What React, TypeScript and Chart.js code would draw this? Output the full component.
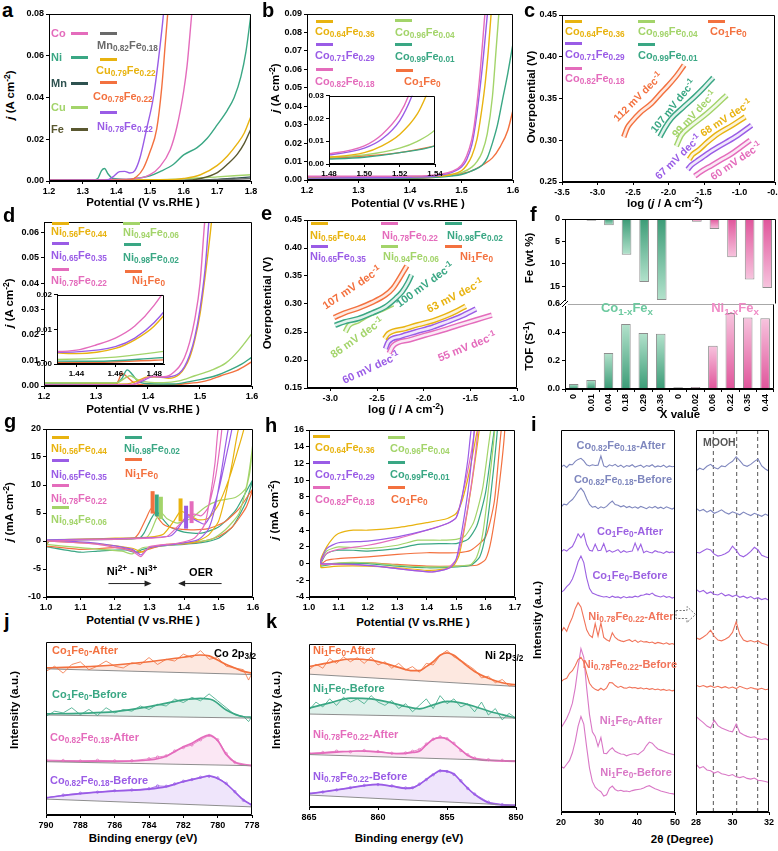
import React, { useEffect, useRef } from 'react';
import { Chart, registerables } from 'chart.js';
Chart.register(...registerables);

const FF = '"Liberation Sans", Arial, Helvetica, sans-serif';
Chart.defaults.font.family = FF;
Chart.defaults.color = '#000';

const PINK = '#e46cbc';
const PURPLE = '#9a5ce6';
const YELLOW = '#e8b310';
const LGREEN = '#a3d46a';
const TEAL = '#3aa784';
const ORANGE = '#f3713f';
const MNC = '#2e5250';
const FEC = '#5a5830';
const GRAYC = '#6a6a6a';
const SLATE = '#7f87be';
const XPUR = '#9c62e2';
const XORG = '#f1745a';
const XPNK = '#d978c6';

// ---------- panel a ----------
const aCo = [[1.2,0.0005],[1.45,0.001],[1.5,0.003],[1.53,0.007],[1.56,0.015],[1.58,0.026],[1.6,0.043],[1.61,0.055],[1.624,0.08],[1.63,0.09]];
const aNi = [[1.2,0.0005],[1.33,0.0005],[1.345,0.0012],[1.356,0.005],[1.365,0.006],[1.375,0.0035],[1.39,0.0012],[1.43,0.0008],[1.47,0.0015],[1.5,0.0025],[1.53,0.0045],[1.57,0.008],[1.6,0.0125],[1.64,0.016],[1.67,0.0205],[1.7,0.027],[1.73,0.034],[1.75,0.04],[1.77,0.05],[1.785,0.062],[1.8,0.08]];
const aMn = [[1.2,0.0003],[1.6,0.0003],[1.65,0.0004],[1.7,0.0008],[1.75,0.0013],[1.8,0.002]];
const aCu = [[1.2,0.0004],[1.5,0.0006],[1.6,0.001],[1.7,0.002],[1.8,0.003]];
const aFe = [[1.2,0.0002],[1.6,0.0003],[1.65,0.0012],[1.7,0.004],[1.73,0.008],[1.76,0.013],[1.78,0.018],[1.8,0.025]];
const aMnFe = [[1.2,0.0001],[1.6,0.0002],[1.7,0.0006],[1.8,0.0012]];
const aCuFe = [[1.2,0.0004],[1.55,0.0006],[1.6,0.0012],[1.65,0.003],[1.7,0.0075],[1.73,0.012],[1.76,0.018],[1.78,0.023],[1.8,0.031]];
const aCoFe = [[1.2,0.0003],[1.44,0.0005],[1.46,0.002],[1.48,0.006],[1.5,0.014],[1.52,0.025],[1.535,0.045],[1.545,0.065],[1.555,0.085],[1.56,0.095]];
const aNiFe = [[1.2,0.0003],[1.37,0.0004],[1.39,0.002],[1.41,0.0045],[1.425,0.0046],[1.44,0.0038],[1.455,0.005],[1.47,0.011],[1.49,0.025],[1.51,0.04],[1.525,0.058],[1.54,0.08],[1.545,0.09]];

// ---------- panel b ----------
const bCo64 = [[1.2,0.0015],[1.3,0.0015],[1.4,0.0018],[1.45,0.002],[1.48,0.003],[1.5,0.005],[1.51,0.008],[1.52,0.013],[1.53,0.022],[1.535,0.03],[1.545,0.05],[1.552,0.07],[1.558,0.092]];
const bCo71 = [[1.2,0.001],[1.3,0.0012],[1.4,0.0015],[1.45,0.0022],[1.48,0.004],[1.5,0.007],[1.51,0.011],[1.52,0.019],[1.527,0.03],[1.54,0.06],[1.551,0.092]];
const bCo82 = [[1.2,0.002],[1.3,0.002],[1.4,0.0022],[1.45,0.0028],[1.48,0.0045],[1.5,0.008],[1.51,0.013],[1.52,0.022],[1.525,0.03],[1.535,0.055],[1.546,0.092]];
const bCo96 = [[1.2,0.0012],[1.3,0.0012],[1.4,0.0015],[1.45,0.002],[1.48,0.003],[1.5,0.004],[1.52,0.007],[1.53,0.01],[1.54,0.015],[1.55,0.025],[1.56,0.045],[1.567,0.07],[1.573,0.092]];
const bCo99 = [[1.2,0.0008],[1.3,0.0008],[1.4,0.001],[1.45,0.0015],[1.48,0.0022],[1.5,0.003],[1.52,0.005],[1.54,0.008],[1.55,0.012],[1.56,0.02],[1.57,0.03],[1.58,0.044],[1.59,0.058],[1.6,0.074]];
const bCo1 = [[1.2,0.0006],[1.3,0.0006],[1.4,0.0008],[1.45,0.0015],[1.48,0.0025],[1.5,0.0035],[1.52,0.005],[1.54,0.008],[1.56,0.012],[1.575,0.018],[1.59,0.027],[1.6,0.038]];

// ---------- panel c (Tafel) ----------
const cCo1 = [[-2.63,0.304],[-2.58,0.315],[-2.52,0.322],[-2.4,0.333],[-2.24,0.344],[-2.1,0.357],[-2.0,0.366],[-1.88,0.378],[-1.78,0.39]];
const cCo99 = [[-2.12,0.304],[-2.05,0.315],[-1.96,0.326],[-1.8,0.339],[-1.63,0.352],[-1.5,0.363],[-1.37,0.375]];
const cCo96 = [[-1.89,0.293],[-1.82,0.306],[-1.7,0.316],[-1.49,0.33],[-1.33,0.342],[-1.18,0.354]];
const cCo64 = [[-1.71,0.277],[-1.66,0.283],[-1.58,0.288],[-1.45,0.298],[-1.3,0.308],[-1.1,0.318],[-0.92,0.328]];
const cCo71 = [[-1.73,0.265],[-1.68,0.27],[-1.6,0.275],[-1.45,0.284],[-1.3,0.292],[-1.06,0.304],[-0.83,0.318]];
const cCo82 = [[-1.63,0.257],[-1.55,0.262],[-1.39,0.27],[-1.25,0.277],[-1.11,0.284],[-0.98,0.292],[-0.85,0.3]];

// ---------- panel d ----------
const dNi56 = [[1.2,0.0006],[1.3,0.0007],[1.36,0.0008],[1.38,0.002],[1.4,0.0035],[1.42,0.0035],[1.44,0.003],[1.46,0.0045],[1.47,0.007],[1.48,0.011],[1.49,0.018],[1.5,0.028],[1.51,0.043],[1.52,0.06],[1.524,0.068]];
const dNi65 = [[1.2,0.0004],[1.3,0.0005],[1.37,0.0006],[1.39,0.002],[1.41,0.0037],[1.43,0.0034],[1.44,0.0035],[1.46,0.005],[1.47,0.0075],[1.48,0.012],[1.49,0.019],[1.5,0.03],[1.51,0.046],[1.517,0.064],[1.52,0.07]];
const dNi78 = [[1.2,0.0003],[1.3,0.0004],[1.37,0.0005],[1.39,0.0025],[1.41,0.0038],[1.43,0.0036],[1.44,0.004],[1.45,0.0055],[1.46,0.0075],[1.47,0.011],[1.48,0.017],[1.49,0.026],[1.5,0.04],[1.509,0.064],[1.512,0.07]];
const dNi94 = [[1.2,0.0013],[1.34,0.0013],[1.355,0.003],[1.365,0.004],[1.38,0.0025],[1.4,0.0015],[1.43,0.0013],[1.46,0.002],[1.49,0.004],[1.52,0.006],[1.55,0.009],[1.575,0.014],[1.6,0.0205]];
const dNi98 = [[1.2,0.0012],[1.34,0.0012],[1.35,0.003],[1.36,0.0063],[1.37,0.0045],[1.38,0.002],[1.4,0.0009],[1.45,0.0008],[1.48,0.0017],[1.5,0.0025],[1.53,0.004],[1.56,0.0065],[1.58,0.0085],[1.6,0.0113]];
const dNi1 = [[1.2,0.0005],[1.338,0.0005],[1.343,0.002],[1.35,0.005],[1.36,0.0035],[1.375,0.001],[1.4,0.0004],[1.45,0.0005],[1.48,0.0011],[1.5,0.0015],[1.52,0.0025],[1.54,0.004],[1.57,0.006],[1.6,0.0095]];

// ---------- panel e (Tafel) ----------
const eNi1 = [[-2.96,0.276],[-2.85,0.284],[-2.7,0.2925],[-2.55,0.303],[-2.41,0.316],[-2.33,0.328],[-2.27,0.343],[-2.22,0.357],[-2.18,0.368]];
const eNi98 = [[-2.95,0.262],[-2.85,0.268],[-2.7,0.274],[-2.55,0.284],[-2.41,0.295],[-2.3,0.31],[-2.23,0.322],[-2.17,0.338],[-2.13,0.352]];
const eNi94 = [[-2.84,0.25],[-2.8,0.262],[-2.7,0.27],[-2.6,0.28],[-2.45,0.29],[-2.33,0.3]];
const eNi56 = [[-2.42,0.238],[-2.38,0.247],[-2.2,0.256],[-2.06,0.263],[-1.9,0.27],[-1.77,0.278],[-1.65,0.287],[-1.55,0.296]];
const eNi65 = [[-2.41,0.22],[-2.38,0.232],[-2.25,0.242],[-2.09,0.25],[-1.9,0.259],[-1.77,0.267],[-1.6,0.278],[-1.44,0.291]];
const eNi78 = [[-2.37,0.212],[-2.33,0.225],[-2.15,0.236],[-1.99,0.244],[-1.8,0.253],[-1.63,0.262],[-1.45,0.271],[-1.27,0.28]];

// ---------- panel f ----------
const fXLabels = ['0','0.01','0.04','0.18','0.29','0.36','0','0.02','0.06','0.22','0.35','0.44'];
const fFeWt = [0, 0.38, 1.4, 8.0, 14.1, 18.1, 0, 0.6, 2.25, 8.55, 13.5, 15.4];
const fTOF = [0.035, 0.064, 0.254, 0.459, 0.395, 0.39, 0.012, 0.014, 0.306, 0.536, 0.504, 0.5];

// ---------- panel g (CV, Ni series) ----------
const gNi1 = [[1.0,-0.9],[1.01,0.1],[1.1,0.3],[1.2,0.4],[1.255,0.5],[1.27,1.5],[1.29,4.0],[1.305,5.8],[1.32,4.5],[1.34,3.0],[1.37,2.3],[1.42,2.0],[1.47,2.2],[1.52,3.5],[1.56,5.8],[1.6,9.3],[1.58,6.0],[1.54,2.5],[1.5,0.8],[1.45,-0.1],[1.4,-0.5],[1.33,-0.9],[1.29,-1.6],[1.27,-2.1],[1.24,-1.5],[1.2,-1.2],[1.1,-1.5],[1.0,-0.9]];
const gNi98 = [[1.0,-1.0],[1.01,0.0],[1.1,0.2],[1.2,0.3],[1.27,0.5],[1.285,1.5],[1.305,4.0],[1.32,5.3],[1.335,4.2],[1.36,2.5],[1.4,1.6],[1.45,1.4],[1.5,2.5],[1.55,5.5],[1.6,11.0],[1.58,7.0],[1.54,2.5],[1.5,0.5],[1.45,-0.3],[1.4,-0.6],[1.33,-0.9],[1.28,-1.5],[1.26,-2.0],[1.23,-1.6],[1.15,-1.8],[1.1,-2.0],[1.0,-1.0]];
const gNi94 = [[1.0,-0.6],[1.01,0.2],[1.1,0.3],[1.2,0.4],[1.29,0.6],[1.305,1.8],[1.32,4.0],[1.335,5.0],[1.35,4.0],[1.38,3.2],[1.42,4.0],[1.46,6.0],[1.5,7.2],[1.55,7.8],[1.58,9.5],[1.6,17.5],[1.59,12.0],[1.56,5.0],[1.52,2.0],[1.48,0.3],[1.42,-0.3],[1.35,-0.8],[1.28,-1.2],[1.25,-2.3],[1.22,-1.8],[1.1,-1.2],[1.0,-0.6]];
const gNi56 = [[1.0,0.0],[1.1,0.3],[1.2,0.5],[1.3,0.7],[1.34,1.2],[1.37,3.5],[1.39,5.3],[1.41,4.8],[1.44,3.8],[1.47,4.0],[1.5,6.5],[1.53,11.0],[1.555,16.0],[1.575,20.5],[1.56,20.5],[1.54,14.0],[1.52,8.0],[1.5,3.5],[1.47,1.0],[1.43,-0.2],[1.35,-0.6],[1.3,-1.3],[1.28,-2.0],[1.25,-1.3],[1.15,-0.5],[1.0,0.0]];
const gNi65 = [[1.0,0.2],[1.1,0.3],[1.2,0.4],[1.3,0.6],[1.36,0.9],[1.38,2.0],[1.4,3.8],[1.415,4.3],[1.44,3.5],[1.46,3.0],[1.48,5.0],[1.5,9.0],[1.52,14.5],[1.54,20.5],[1.53,20.5],[1.51,13.0],[1.49,6.0],[1.47,2.0],[1.44,0.2],[1.38,-0.5],[1.3,-1.2],[1.275,-2.5],[1.25,-1.5],[1.15,-0.4],[1.0,0.2]];
const gNi78 = [[1.0,0.0],[1.1,0.2],[1.2,0.3],[1.3,0.5],[1.35,0.8],[1.38,2.5],[1.41,4.5],[1.43,4.8],[1.45,4.5],[1.47,6.0],[1.49,11.0],[1.5,15.0],[1.51,20.5],[1.5,20.5],[1.49,14.0],[1.475,7.5],[1.46,3.0],[1.43,0.5],[1.38,-0.4],[1.3,-1.0],[1.275,-2.8],[1.25,-1.8],[1.15,-0.6],[1.0,0.0]];
const gPeakX = [1.309, 1.321, 1.333, 1.39, 1.406, 1.422];
const gPeakLow = [4.9, 4.4, 3.9, 3.5, 2.2, 3.2];
const gPeakHigh = [8.9, 8.3, 7.9, 7.6, 6.3, 7.1];
const gArrows = [[1.181, 1.306, -7.6], [1.509, 1.383, -7.6]];

// ---------- panel h (CV, Co series) ----------
const hCo64 = [[1.04,-0.5],[1.04,0.5],[1.06,2.0],[1.08,3.0],[1.1,3.6],[1.15,4.0],[1.2,4.0],[1.3,4.3],[1.4,4.9],[1.47,5.4],[1.5,6.0],[1.52,7.5],[1.545,11.0],[1.575,16.5],[1.58,16.5],[1.555,10.0],[1.53,4.5],[1.51,1.0],[1.49,-0.3],[1.45,-0.7],[1.4,-0.8],[1.3,-0.5],[1.2,-0.3],[1.1,-0.3],[1.04,-0.5]];
const hCo71 = [[1.04,0.0],[1.04,0.3],[1.06,1.8],[1.1,2.5],[1.2,2.7],[1.3,3.2],[1.4,4.0],[1.47,4.8],[1.5,5.5],[1.52,8.0],[1.54,12.5],[1.553,16.5],[1.562,16.5],[1.545,10.0],[1.52,4.0],[1.5,0.5],[1.48,-0.5],[1.42,-1.0],[1.35,-0.8],[1.25,-0.4],[1.15,-0.1],[1.04,0.0]];
const hCo82 = [[1.04,-0.1],[1.04,0.2],[1.06,1.2],[1.1,1.7],[1.2,2.2],[1.3,3.0],[1.4,4.0],[1.47,4.8],[1.5,5.5],[1.52,8.0],[1.55,13.0],[1.566,16.5],[1.575,16.5],[1.55,9.0],[1.52,3.0],[1.5,0.5],[1.47,-0.6],[1.42,-1.0],[1.3,-0.6],[1.2,-0.2],[1.1,-0.1],[1.04,-0.1]];
const hCo96 = [[1.04,-0.2],[1.04,0.2],[1.06,1.5],[1.1,2.0],[1.15,1.9],[1.2,1.8],[1.3,2.2],[1.37,2.8],[1.45,2.8],[1.5,2.9],[1.53,3.3],[1.56,5.0],[1.59,9.0],[1.62,16.5],[1.632,16.5],[1.61,9.0],[1.59,3.5],[1.57,0.8],[1.55,-0.1],[1.5,-0.3],[1.4,-0.4],[1.3,-0.2],[1.2,0.1],[1.1,0.1],[1.04,-0.2]];
const hCo99 = [[1.04,-0.3],[1.04,0.0],[1.06,1.2],[1.1,1.6],[1.15,1.6],[1.2,1.5],[1.3,1.8],[1.37,2.3],[1.45,2.4],[1.5,2.4],[1.54,2.9],[1.57,4.5],[1.6,8.5],[1.632,16.5],[1.641,16.5],[1.62,9.0],[1.6,3.5],[1.58,0.8],[1.55,-0.2],[1.5,-0.4],[1.4,-0.5],[1.3,-0.3],[1.2,0.0],[1.1,0.0],[1.04,-0.3]];
const hCo1 = [[1.04,-0.1],[1.06,0.4],[1.1,0.6],[1.2,0.8],[1.3,1.1],[1.4,1.3],[1.5,1.3],[1.55,1.6],[1.6,3.2],[1.63,7.5],[1.655,16.5],[1.666,16.5],[1.645,9.0],[1.62,3.0],[1.6,0.5],[1.57,-0.2],[1.5,-0.3],[1.4,-0.3],[1.3,-0.1],[1.2,0.1],[1.1,0.0],[1.04,-0.1]];

// ---------- panel i (XRD) ----------
const iLeftX = [20,20.75,21.5,22.25,23,23.75,24.5,25.25,26,26.75,27.5,28.25,29,29.75,30.5,31.25,32,32.75,33.5,34.25,35,35.75,36.5,37.25,38,38.75,39.5,40.25,41,41.75,42.5,43.25,44,44.75,45.5,46.25,47,47.75,48.5,49.25,50];
const iOffsets = [90, 79, 67.5, 55.5, 43.5, 31.5, 15, 5];
const iColors = [SLATE, SLATE, XPUR, XPUR, XORG, XORG, XPNK, XPNK];
const iL1 = [0.3,0.8,0.2,1.0,0.9,1.8,2.3,2.6,1.9,0.9,0.6,0.9,0.7,0.8,3.2,0.6,0.3,0.9,0.6,1.0,0.4,0.8,0.2,0.7,0.5,0.9,0.3,0.6,0.8,0.2,0.7,0.5,0.9,0.3,0.6,0.4,0.8,0.2,0.6,0.4,0.5];
const iL2 = [0.8,1.6,1.4,2.2,2.8,3.8,5.0,5.8,4.8,3.0,1.5,0.8,1.0,0.4,0.9,0.6,1.0,1.8,2.4,1.5,1.3,0.9,1.2,0.7,1.0,0.6,0.9,0.5,1.0,0.7,0.4,0.9,0.6,1.0,0.5,0.8,0.4,0.9,0.6,0.3,0.7];
const iL3 = [0.6,1.2,0.8,1.5,2.0,3.5,5.3,4.3,5.4,2.5,1.0,0.8,2.6,0.9,1.0,2.8,0.6,1.0,0.5,0.8,1.2,0.4,0.9,0.5,0.7,0.8,2.9,1.0,2.6,0.4,0.8,0.5,0.3,0.9,0.6,0.5,0.2,0.7,0.4,0.6,0.3];
const iL4 = [2.0,2.5,3.5,4.2,5.5,7.5,10.0,11.5,9.8,5.8,3.0,1.8,1.5,1.2,1.0,0.8,0.9,0.6,1.0,0.7,0.8,0.5,0.9,0.6,0.8,0.7,1.0,0.8,1.2,1.3,1.6,1.4,1.8,1.2,1.0,0.8,1.1,0.7,0.9,0.5,0.8];
const iL5 = [3.5,4.8,3.8,5.8,7.5,9.8,11.3,10.2,7.2,4.2,2.8,2.2,5.8,2.6,6.0,2.2,1.6,1.2,3.4,2.2,1.6,1.3,1.1,1.4,1.6,1.1,1.5,0.9,1.3,1.0,1.1,0.8,1.0,0.6,0.9,0.7,0.5,0.8,0.4,0.6,0.3];
const iL6 = [2.6,3.2,3.5,4.8,5.5,6.8,8.4,9.0,7.8,4.8,2.2,1.2,0.6,0.3,0.9,0.4,1.0,2.4,2.3,1.6,1.1,1.4,1.0,0.9,1.2,1.0,1.1,0.8,1.0,0.7,0.9,0.6,0.8,0.5,0.7,0.4,0.6,0.3,0.5,0.2,0.4];
const iL7 = [7.0,8.2,9.5,11.2,13.5,17.5,23.0,27.8,25.5,17.5,10.5,6.0,4.8,2.2,4.5,0.4,0.3,1.2,1.8,0.9,0.5,0.2,0.1,-0.3,0.0,0.2,0.3,0.0,0.6,1.2,2.4,3.3,3.0,2.2,1.5,1.2,0.9,0.6,0.3,0.1,-0.1];
const iL8 = [6.9,6.5,7.5,8.5,10.5,13.5,17.5,20.0,18.0,12.0,6.5,3.0,1.5,0.8,0.3,-0.8,-0.5,1.2,1.8,0.9,0.5,0.7,0.4,0.5,0.3,0.6,0.8,0.9,1.0,1.3,1.7,1.9,1.5,1.1,0.8,0.5,0.3,0.1,-0.1,-0.2,-0.4];
const iRightX = [28,28.2,28.4,28.6,28.8,29,29.2,29.4,29.6,29.8,30,30.2,30.4,30.6,30.8,31,31.2,31.4,31.6,31.8,32];
const iR1 = [89.3,90.0,89.6,90.5,91.0,90.2,89.8,90.6,90.4,91.2,91.8,93.0,92.0,90.8,90.5,91.0,91.8,92.4,90.6,89.8,89.2];
const iR2 = [79.5,78.8,79.2,78.5,79.0,78.2,78.6,79.1,78.4,78.0,78.6,78.2,77.8,78.5,78.0,77.6,78.2,77.8,77.4,78.0,77.5];
const iR3 = [68.0,67.8,68.4,68.9,68.6,67.5,67.0,67.2,67.6,68.2,69.6,68.5,67.2,66.8,67.4,68.2,69.3,68.6,67.2,66.8,66.5];
const iR4 = [58.3,57.6,58.0,57.2,57.6,57.0,56.8,57.3,56.6,56.9,56.4,56.8,56.2,56.5,56.0,56.4,55.8,56.1,55.6,55.9,55.4];
const iR5 = [45.6,45.2,45.8,46.5,47.6,46.0,45.0,44.8,45.2,45.8,47.0,49.8,46.5,45.0,44.6,44.9,44.5,44.8,44.2,43.9,43.5];
const iR6 = [33.2,32.8,33.1,32.7,33.0,32.6,32.9,32.5,32.8,32.4,32.7,32.3,32.9,32.5,32.2,32.6,32.3,32.1,32.4,32.0,32.2];
const iR7 = [25.0,24.2,23.4,22.5,22.0,24.0,22.6,22.0,21.6,21.2,21.0,23.0,20.8,20.2,19.8,19.5,19.7,19.2,19.0,19.2,18.8];
const iR8 = [12.5,11.5,11.9,11.0,10.8,10.2,10.6,10.0,9.8,9.5,9.8,9.2,9.0,9.3,8.8,8.6,8.9,8.3,8.2,8.0,7.7];
const iMoohX = [28.95, 30.23, 31.38];

// ---------- panel j (XPS Co 2p3/2) ----------
const j1Env = [[790,85],[788,85.6],[786,86.7],[784,88.6],[782,91.2],[781,92.5],[780.5,92],[780,89.6],[779.5,87],[779,85],[778.5,83],[778,82]];
const j1Base = [[790,84.5],[778,81.2]];
const j1Raw = [[790,83],[789.5,86],[789,82],[788.5,87],[788,88.5],[787.5,84],[787,86],[786.5,89],[786,86],[785.5,85],[785,88],[784.5,87],[784,91],[783.5,87],[783,90],[782.5,89],[782,93],[781.5,91],[781,95],[780.5,90],[780,91],[779.5,86],[779,85],[778.5,84],[778.2,78],[778,82]];
const j2Env = [[790,58.4],[788,58.8],[786,59.7],[784,62.6],[782,66.5],[781,67.4],[780.3,66.5],[779.5,60.7],[778.5,56.8],[778,56.5]];
const j2Base = [[790,57.8],[778,56]];
const j2Raw = [[790,57],[789.5,60],[789,59],[788.5,62],[788,58],[787.5,61],[787,57.5],[786.5,62],[786,59],[785.5,61],[785,60],[784.5,63],[784,61],[783.5,64],[783,63],[782.5,67],[782,65],[781.5,68],[781,66],[780.5,70],[780,66],[779.5,62],[779,58],[778.5,57],[778.2,54],[778,57]];
const j3Env = [[790,31.2],[786,31.0],[784,31.8],[783,34.0],[782,39.5],[781.5,41.5],[781,44.3],[780.5,46.2],[780,43.0],[779.5,35.0],[779,30.5],[778.5,29],[778,28.5]];
const j3Base = [[790,30.8],[778,28.5]];
const j3Raw = [[790,31.8],[789,31.5],[788,31.2],[787,31.6],[786,31.3],[785,31.4],[784,32.5],[783.5,33.5],[783,34.2],[782.5,37],[782,39],[781.5,40.5],[781,43.5],[780.5,46],[780,43.5],[779.5,35.5],[779,30.5],[778,28.6]];
const j4Env = [[790,10],[788,12.4],[786,13.9],[784,15],[783,16.4],[782,19.3],[781,21.6],[780.5,22.6],[780,21.1],[779.5,18],[779,13.4],[778.5,8.7],[778,5.8]];
const j4Base = [[790,9.2],[778,4.7]];
const j4Raw = [[790,9.8],[789,11.5],[788,12.6],[787,13.2],[786,14.1],[785,14.5],[784,15.2],[783.5,16.8],[783,16.6],[782.5,18],[782,19.5],[781.5,20.5],[781,21.8],[780.5,22.4],[780,21.5],[779.5,18.3],[779,13.5],[778.5,8.5],[778,5.8]];

// ---------- panel k (XPS Ni 2p3/2) ----------
const k1Env = [[865,86],[863.5,88.5],[862,90.7],[860.5,90],[859.5,88],[858.5,85.5],[857.5,83.5],[857,83.5],[856.5,86],[856,89],[855.5,93],[855,94.5],[854.5,93],[854,89.5],[853,83],[852,78.8],[851,76],[850,74.7]];
const k1Base = [[865,81.3],[850,73.7]];
const k1Raw = [[865,84],[864.5,87.5],[864,85],[863.5,91],[863,88],[862.5,92],[862,89],[861.5,91.5],[861,88],[860.5,92],[860,87],[859.5,89],[859,85],[858.5,88],[858,84],[857.5,86],[857,82.5],[856.5,88],[856,87],[855.5,93],[855,96],[854.5,92],[854,90],[853.5,87],[853,84],[852.5,79],[852,80],[851.5,76],[851,78],[850.5,74],[850,75]];
const k2Env = [[865,60.3],[863.5,63.5],[862,66.5],[860.5,66],[859,63.5],[858,61.3],[857,59.8],[856,62.3],[855,64.4],[854,63.5],[853,61.3],[852,58.5],[851,56.2],[850,54.1]];
const k2Base = [[865,56.6],[850,54.1]];
const k2Raw = [[865,59],[864.5,64],[864,61],[863.5,66],[863,62],[862.5,67],[862,64],[861.5,66],[861,63],[860.5,68],[860,64],[859.5,62],[859,65],[858.5,60],[858,63],[857.5,58],[857,62],[856.5,66],[856,60],[855.5,68],[855,63],[854.5,66],[854,61],[853.5,63],[853,58],[852.5,64],[852,56],[851.5,60],[851,53],[850.5,57],[850,54]];
const k3Env = [[865,31.9],[863,33],[861.5,33.7],[860,33.1],[858.5,32],[857.5,32.8],[857,33.5],[856.5,37.5],[856,41],[855.5,42],[855,41.2],[854.5,38],[854,34.6],[853.5,31],[853,29],[852,27.8],[850,27.3]];
const k3Base = [[865,31.5],[850,27.5]];
const k3Raw = [[865,32.3],[864,32.8],[863,33.6],[862,33.2],[861,34],[860,33.4],[859,32.3],[858,32.5],[857.5,33.5],[857,34.6],[856.5,38],[856,41],[855.5,42.5],[855,41.3],[854.5,38.5],[854,34],[853.5,31.4],[853,29.3],[852,28.3],[851,27.9],[850,27.5]];
const k4Env = [[865,7.2],[863.5,9],[862,10.9],[861,12.3],[860,13],[859,11.9],[858,10.5],[857.5,10.8],[857,13],[856,19.1],[855.5,21.6],[855,21.2],[854.5,19.5],[854,15],[853,6.8],[852,1.7],[851,0.3],[850,0]];
const k4Base = [[865,6.4],[850,0]];
const k4Raw = [[865,7.5],[864,8.3],[863,9.6],[862,11],[861,12.4],[860,12.9],[859,12.1],[858,10.8],[857.5,11],[857,13.2],[856.5,16],[856,19],[855.5,21.4],[855,21],[854.5,19.2],[854,15.3],[853.5,10.5],[853,7],[852,2],[851,0.5],[850,0.1]];

// ================= helpers =================
const hexA = (h: string, a: number) => {
  const n = parseInt(h.slice(1), 16);
  return `rgba(${(n >> 16) & 255},${(n >> 8) & 255},${n & 255},${a})`;
};

const ln = (data: number[][], color: string, extra: any = {}) => ({
  type: 'line',
  data: data.map(([x, y]) => ({ x, y })),
  borderColor: color,
  backgroundColor: color,
  borderWidth: 1.4,
  pointRadius: 0,
  fill: false,
  cubicInterpolationMode: 'monotone',
  ...extra,
});

const loop = (data: number[][], color: string) => ln(data, color, { cubicInterpolationMode: 'default', tension: 0.2, borderWidth: 1.2 });

// Chart.js paints dataset 0 on top, so the white core comes first
const tube = (data: number[][], color: string) => [
  ln(data, 'rgba(255,255,255,0.85)', { borderWidth: 2.6 }),
  ln(data, color, { borderWidth: 5.5 }),
];

function lin(min: number, max: number, step: number, dec: number, more: any = {}, fs = 9) {
  return {
    type: 'linear',
    min,
    max,
    ticks: {
      stepSize: step,
      includeBounds: false,
      autoSkip: false,
      maxRotation: 0,
      minRotation: 0,
      padding: 2,
      color: '#000',
      font: { family: FF, size: fs, weight: 'bold' },
      callback: (v: any) => Number(v).toFixed(dec),
    },
    grid: { display: true, drawOnChartArea: false, drawTicks: true, tickLength: 3, color: '#000', lineWidth: 1 },
    border: { display: true, color: '#000', width: 1 },
    ...more,
  };
}

function frame(spec: any = {}) {
  const s = { t: '#000', r: '#000', b: '#000', l: '#000', ...spec };
  return {
    id: 'frame',
    afterDraw(ch: any) {
      const a = ch.chartArea;
      const c = ch.ctx;
      const L = Math.round(a.left) + 0.5, R = Math.round(a.right) - 0.5;
      const T = Math.round(a.top) + 0.5, B = Math.round(a.bottom) - 0.5;
      c.save();
      c.lineWidth = 1;
      const seg = (col: any, x0: number, y0: number, x1: number, y1: number) => {
        if (!col) return;
        c.strokeStyle = col;
        c.beginPath();
        c.moveTo(x0, y0);
        c.lineTo(x1, y1);
        c.stroke();
      };
      seg(s.t, L, T, R, T);
      seg(s.r, R, T, R, B);
      seg(s.b, L, B, R, B);
      seg(s.l, L, T, L, B);
      c.restore();
    },
  };
}

const whiteBg = {
  id: 'wbg',
  beforeDraw(ch: any) {
    const a = ch.chartArea;
    ch.ctx.save();
    ch.ctx.fillStyle = '#fff';
    ch.ctx.fillRect(a.left, a.top, a.right - a.left, a.bottom - a.top);
    ch.ctx.restore();
  },
};

function lineCfg(datasets: any[], x: any, y: any, plugins: any[] = []) {
  return {
    type: 'line',
    data: { datasets },
    options: { scales: { x, y } },
    plugins: [frame(), ...plugins],
  };
}

type Mg = { l: number; t: number; r: number; b: number };
const M0: Mg = { l: 30, t: 10, r: 14, b: 16 };

function ChartBox({ rect, m = M0, build, z = 1 }: { rect: number[]; m?: Mg; build: () => any; z?: number }) {
  const ref = useRef<HTMLCanvasElement | null>(null);
  const [l, t, r, b] = rect;
  const W = Math.round(r - l + m.l + m.r);
  const H = Math.round(b - t + m.t + m.b);
  useEffect(() => {
    const cfg = build();
    const o = cfg.options;
    const xs = o.scales.x, ys = o.scales.y;
    const xShown = xs.display !== false, yShown = ys.display !== false;
    if (xShown) xs.afterFit = (s: any) => { s.height = m.b; };
    if (yShown) ys.afterFit = (s: any) => { s.width = m.l; };
    o.layout = { padding: { top: m.t, right: m.r, left: yShown ? 0 : m.l, bottom: xShown ? 0 : m.b } };
    o.responsive = false;
    o.maintainAspectRatio = false;
    o.animation = false;
    o.devicePixelRatio = 1;
    o.events = [];
    o.plugins = { ...(o.plugins || {}), legend: { display: false }, tooltip: { enabled: false } };
    const ch = new Chart(ref.current as HTMLCanvasElement, cfg);
    return () => ch.destroy();
  }, []);
  return (
    <canvas
      ref={ref}
      width={W}
      height={H}
      style={{ position: 'absolute', left: l - m.l, top: t - m.t, width: W, height: H, zIndex: z }}
    />
  );
}

function rich(s: string) {
  const out: any[] = [];
  const re = /([_^~])\{([^}]*)\}/g;
  let last = 0;
  let k = 0;
  let mm: RegExpExecArray | null;
  while ((mm = re.exec(s))) {
    if (mm.index > last) out.push(s.slice(last, mm.index));
    if (mm[1] === '~') {
      out.push(<span key={k++} style={{ fontStyle: 'italic' }}>{mm[2]}</span>);
    } else {
      out.push(
        <span key={k++} style={{ fontSize: '0.75em', position: 'relative', top: mm[1] === '_' ? '0.3em' : '-0.45em' }}>
          {mm[2]}
        </span>
      );
    }
    last = mm.index + mm[0].length;
  }
  if (last < s.length) out.push(s.slice(last));
  return out;
}

function Tx({ x, y, t, c = '#000', s = 11, a = 'l', r = 0, w = 700 }: any) {
  const tx = a === 'c' ? '-50%' : a === 'r' ? '-100%' : '0';
  return (
    <div
      style={{
        position: 'absolute', left: x, top: y,
        transform: `translate(${tx},-50%)${r ? ` rotate(${r}deg)` : ''}`,
        transformOrigin: '50% 50%', color: c, fontSize: s, fontWeight: w, lineHeight: 1,
        whiteSpace: 'nowrap', fontFamily: FF, zIndex: 5,
      }}
    >
      {rich(t)}
    </div>
  );
}

function Sw({ x, y, c, w = 17 }: any) {
  return <div style={{ position: 'absolute', left: x, top: y - 1.5, width: w, height: 3, background: c, zIndex: 5 }} />;
}

// ================= chart builders =================
const buildA = () => lineCfg(
  [ln(aNiFe, PURPLE), ln(aCoFe, ORANGE), ln(aCo, PINK), ln(aNi, TEAL), ln(aCuFe, YELLOW), ln(aFe, FEC), ln(aMnFe, GRAYC), ln(aCu, LGREEN), ln(aMn, MNC)],
  lin(1.2, 1.8, 0.1, 1), lin(0, 0.08, 0.02, 2)
);

const bSets = () => [ln(bCo82, PINK), ln(bCo71, PURPLE), ln(bCo64, YELLOW), ln(bCo96, LGREEN), ln(bCo99, TEAL), ln(bCo1, ORANGE)];
const buildB = () => lineCfg(bSets(), lin(1.2, 1.6, 0.1, 1), lin(0, 0.09, 0.01, 2));
const buildBIn = () => lineCfg(bSets(), lin(1.48, 1.54, 0.02, 2, {}, 8), lin(0, 0.03, 0.01, 2, {}, 8), [whiteBg]);

const buildC = () => lineCfg(
  [...tube(cCo1, ORANGE), ...tube(cCo99, TEAL), ...tube(cCo96, LGREEN), ...tube(cCo64, YELLOW), ...tube(cCo71, PURPLE), ...tube(cCo82, PINK)],
  lin(-3.5, -0.5, 0.5, 1), lin(0.25, 0.45, 0.05, 2)
);

const dSets = () => [ln(dNi78, PINK), ln(dNi65, PURPLE), ln(dNi56, YELLOW), ln(dNi94, LGREEN), ln(dNi98, TEAL), ln(dNi1, ORANGE)];
const buildD = () => lineCfg(dSets(), lin(1.2, 1.6, 0.1, 1), lin(0, 0.064, 0.01, 2));
const buildDIn = () => lineCfg(dSets(), lin(1.43, 1.485, 0.02, 2, {}, 8), lin(0, 0.02, 0.01, 2, {}, 8), [whiteBg]);

const buildE = () => lineCfg(
  [...tube(eNi1, ORANGE), ...tube(eNi98, TEAL), ...tube(eNi94, LGREEN), ...tube(eNi56, YELLOW), ...tube(eNi65, PURPLE), ...tube(eNi78, PINK)],
  lin(-3.25, -1.0, 0.5, 1), lin(0.15, 0.45, 0.05, 2)
);

const barGrad = (ctx: any) => {
  const ch = ctx.chart;
  const ni = ctx.dataIndex >= 6;
  const dark = ni ? '#e0559b' : '#3c9c77';
  const light = ni ? '#f7c4de' : '#b3e2cc';
  const ys = ch.scales && ch.scales.y;
  if (!ys || ctx.type !== 'data') return dark;
  const y0 = ys.getPixelForValue(0);
  const y1 = ys.getPixelForValue(ctx.raw);
  if (!isFinite(y0) || !isFinite(y1) || Math.abs(y0 - y1) < 1) return dark;
  const g = ch.ctx.createLinearGradient(0, y0, 0, y1);
  g.addColorStop(0, dark);
  g.addColorStop(1, light);
  return g;
};

const buildFTop = () => ({
  type: 'bar',
  data: { labels: fXLabels, datasets: [{ data: fFeWt, backgroundColor: barGrad, borderColor: '#8d8d8d', borderWidth: 1, barPercentage: 0.55, categoryPercentage: 1 }] },
  options: { scales: { x: { type: 'category', display: false }, y: lin(0, 19, 5, 0, { reverse: true }) } },
  plugins: [frame({ b: null })],
});

const breakMark = {
  id: 'brk',
  afterDraw(ch: any) {
    const a = ch.chartArea;
    const c = ch.ctx;
    const x = a.left, y = a.top;
    c.save();
    c.fillStyle = '#fff';
    c.fillRect(x - 3, y - 3, 6, 5);
    c.strokeStyle = '#000';
    c.lineWidth = 1;
    c.beginPath();
    c.moveTo(x - 5, y + 1); c.lineTo(x + 1, y - 5);
    c.moveTo(x - 3, y + 3); c.lineTo(x + 3, y - 3);
    c.stroke();
    c.restore();
  },
};

const buildFBot = () => ({
  type: 'bar',
  data: { labels: fXLabels, datasets: [{ data: fTOF, backgroundColor: barGrad, borderColor: '#8d8d8d', borderWidth: 1, barPercentage: 0.55, categoryPercentage: 1 }] },
  options: {
    scales: {
      x: {
        type: 'category',
        ticks: { font: { family: FF, size: 9, weight: 'bold' }, color: '#000', minRotation: 90, maxRotation: 90, padding: 2, autoSkip: false },
        grid: { drawOnChartArea: false, drawTicks: true, tickLength: 3, color: '#000' },
        border: { display: true, color: '#000' },
      },
      y: lin(0, 0.6, 0.2, 1),
    },
  },
  plugins: [frame({ t: '#a8a8a8' }), breakMark],
});

const gPeakSets = () => gPeakX.map((x, i) =>
  ln([[x, gPeakLow[i]], [x, gPeakHigh[i]]], [ORANGE, TEAL, LGREEN, YELLOW, PURPLE, PINK][i], { borderWidth: 4, cubicInterpolationMode: 'default' })
);
const arrowPlugin = {
  id: 'garr',
  afterDatasetsDraw(ch: any) {
    const xs = ch.scales.x, ys = ch.scales.y, c = ch.ctx;
    c.save();
    c.strokeStyle = '#222';
    c.fillStyle = '#222';
    c.lineWidth = 1;
    gArrows.forEach(([x0, x1, y]) => {
      const p0 = xs.getPixelForValue(x0), p1 = xs.getPixelForValue(x1), py = ys.getPixelForValue(y);
      const d = Math.sign(p1 - p0);
      c.beginPath(); c.moveTo(p0, py); c.lineTo(p1 - d * 5, py); c.stroke();
      c.beginPath(); c.moveTo(p1, py); c.lineTo(p1 - d * 7, py - 3); c.lineTo(p1 - d * 7, py + 3); c.closePath(); c.fill();
    });
    c.restore();
  },
};
const buildG = () => lineCfg(
  [...gPeakSets(), loop(gNi78, PINK), loop(gNi65, PURPLE), loop(gNi56, YELLOW), loop(gNi94, LGREEN), loop(gNi1, ORANGE), loop(gNi98, TEAL)],
  lin(1.0, 1.6, 0.1, 1), lin(-10, 20, 5, 0), [arrowPlugin]
);

const buildH = () => lineCfg(
  [loop(hCo71, PURPLE), loop(hCo82, PINK), loop(hCo64, YELLOW), loop(hCo96, LGREEN), loop(hCo99, TEAL), loop(hCo1, ORANGE)],
  lin(1.0, 1.7, 0.1, 1), lin(-4, 16, 2, 0)
);

const iLeftTraces = [iL1, iL2, iL3, iL4, iL5, iL6, iL7, iL8];
const iRightTraces = [iR1, iR2, iR3, iR4, iR5, iR6, iR7, iR8];
const buildIL = () => lineCfg(
  iLeftTraces.map((vals, k) => ln(iLeftX.map((x, i) => [x, vals[i] + iOffsets[k]]), iColors[k], { borderWidth: 1.1, tension: 0, cubicInterpolationMode: 'default' })),
  lin(20, 50, 10, 0), { display: false, min: 0, max: 100 }
);
const buildIR = () => lineCfg(
  [
    ...iRightTraces.map((vals, k) => ln(iRightX.map((x, i) => [x, vals[i]]), iColors[k], { borderWidth: 1.1, tension: 0, cubicInterpolationMode: 'default' })),
    ...iMoohX.map((x) => ln([[x, 0], [x, 100]], '#555', { borderWidth: 1, borderDash: [4, 3], cubicInterpolationMode: 'default' })),
  ],
  lin(28, 32, 2, 0), { display: false, min: 0, max: 100 }
);

function xpsSets(traces: any[]) {
  const ds: any[] = [];
  traces.forEach((tr) => {
    ds.push(ln(tr.raw, tr.c, {
      borderWidth: 0.8, tension: 0, cubicInterpolationMode: 'default',
      pointRadius: tr.dots ? 1.2 : 0, pointBackgroundColor: 'rgba(255,255,255,0)', pointBorderColor: tr.c, pointBorderWidth: 0.7,
    }));
    const bi = ds.length;
    ds.push(ln(tr.base, '#8e8e8e', { borderWidth: 1, cubicInterpolationMode: 'default' }));
    ds.push(ln(tr.env, tr.c, { borderWidth: 1.7, fill: { target: bi }, backgroundColor: hexA(tr.c, 0.16) }));
  });
  return ds;
}
const buildJ = () => lineCfg(
  xpsSets([
    { env: j1Env, base: j1Base, raw: j1Raw, c: ORANGE },
    { env: j2Env, base: j2Base, raw: j2Raw, c: TEAL },
    { env: j3Env, base: j3Base, raw: j3Raw, c: PINK, dots: true },
    { env: j4Env, base: j4Base, raw: j4Raw, c: PURPLE, dots: true },
  ]),
  lin(778, 790, 2, 0, { reverse: true }), { display: false, min: 0, max: 100 }
);
const buildK = () => lineCfg(
  xpsSets([
    { env: k1Env, base: k1Base, raw: k1Raw, c: ORANGE },
    { env: k2Env, base: k2Base, raw: k2Raw, c: TEAL },
    { env: k3Env, base: k3Base, raw: k3Raw, c: PINK, dots: true },
    { env: k4Env, base: k4Base, raw: k4Raw, c: PURPLE, dots: true },
  ]),
  lin(850, 865, 5, 0, { reverse: true }), { display: false, min: -1, max: 100 }
);

const MI: Mg = { l: 24, t: 6, r: 10, b: 13 };
const MH: Mg = { l: 10, t: 10, r: 12, b: 16 };

const T11 = 11.5;

export default function App() {
  return (
    <div style={{ position: 'absolute', left: 0, top: 0, width: 778, height: 851, background: '#fff', overflow: 'hidden', fontFamily: FF }}>
      <ChartBox rect={[49, 14, 251, 181]} build={buildA} />
      <ChartBox rect={[307, 14, 513, 180]} build={buildB} />
      <ChartBox rect={[329, 95, 435, 164]} m={MI} build={buildBIn} z={2} />
      <ChartBox rect={[562, 15, 775, 182]} build={buildC} />
      <ChartBox rect={[44, 222, 252, 386]} build={buildD} />
      <ChartBox rect={[57, 294, 164, 364]} m={MI} build={buildDIn} z={2} />
      <ChartBox rect={[307, 220, 517, 388]} build={buildE} />
      <ChartBox rect={[565, 219, 776, 304]} m={{ l: 30, t: 10, r: 2, b: 8 }} build={buildFTop} />
      <ChartBox rect={[565, 304, 776, 389]} m={{ l: 30, t: 10, r: 2, b: 26 }} build={buildFBot} />
      <ChartBox rect={[46, 429, 253, 597]} build={buildG} />
      <ChartBox rect={[309, 430, 515, 597]} build={buildH} />
      <ChartBox rect={[561, 430, 675, 812]} m={MH} build={buildIL} />
      <ChartBox rect={[696, 430, 769, 812]} m={{ l: 10, t: 10, r: 9, b: 16 }} build={buildIR} />
      <ChartBox rect={[46, 642, 252, 815]} m={MH} build={buildJ} />
      <ChartBox rect={[309, 644, 516, 807]} m={MH} build={buildK} />

      {/* panel letters */}
      <Tx x={2} y={10} t="a" s={20} />
      <Tx x={262} y={10} t="b" s={20} />
      <Tx x={524} y={10} t="c" s={20} />
      <Tx x={3} y={215} t="d" s={20} />
      <Tx x={261} y={213} t="e" s={20} />
      <Tx x={530} y={214} t="f" s={20} />
      <Tx x={4} y={421} t="g" s={20} />
      <Tx x={265} y={425} t="h" s={20} />
      <Tx x={531} y={424} t="i" s={20} />
      <Tx x={4} y={621} t="j" s={20} />
      <Tx x={266} y={621} t="k" s={20} />

      {/* axis titles */}
      <Tx x={11} y={95} a="c" r={-90} s={T11} t="~{j} (A cm^{-2})" />
      <Tx x={143} y={203} a="c" s={T11} t="Potential (V vs.RHE )" />
      <Tx x={276} y={88} a="c" r={-90} s={T11} t="~{j} (A cm^{-2})" />
      <Tx x={408} y={204} a="c" s={T11} t="Potential (V vs.RHE )" />
      <Tx x={532} y={97} a="c" r={-90} s={T11} t="Overpotential (V)" />
      <Tx x={665} y={204} a="c" s={T11} t="log (~{j} / A cm^{-2})" />
      <Tx x={10} y={303} a="c" r={-90} s={T11} t="~{j} (A cm^{-2})" />
      <Tx x={143} y={410} a="c" s={T11} t="Potential (V vs.RHE )" />
      <Tx x={268} y={303} a="c" r={-90} s={T11} t="Overpotential (V)" />
      <Tx x={406} y={410} a="c" s={T11} t="log (~{j} / A cm^{-2})" />
      <Tx x={530} y={258} a="c" r={-90} s={T11} t="Fe (wt %)" />
      <Tx x={530} y={346} a="c" r={-90} s={T11} t="TOF (S^{-1})" />
      <Tx x={680} y={415} a="c" s={T11} t="X value" />
      <Tx x={10} y={512} a="c" r={-90} s={T11} t="~{j} (mA cm^{-2})" />
      <Tx x={143} y={621} a="c" s={T11} t="Potential (V vs.RHE )" />
      <Tx x={275} y={510} a="c" r={-90} s={T11} t="~{j} (mA cm^{-2})" />
      <Tx x={413} y={623} a="c" s={T11} t="Potential (V vs.RHE )" />
      <Tx x={538} y={620} a="c" r={-90} s={T11} t="Intensity (a.u.)" />
      <Tx x={682} y={840} a="c" s={T11} t="2θ (Degree)" />
      <Tx x={15} y={710} a="c" r={-90} s={T11} t="Intensity (a.u.)" />
      <Tx x={143} y={839} a="c" s={T11} t="Binding energy (eV)" />
      <Tx x={277} y={710} a="c" r={-90} s={T11} t="Intensity (a.u.)" />
      <Tx x={409} y={839} a="c" s={T11} t="Binding energy (eV)" />

      {/* legend a */}
      <Tx x={51} y={33} c={PINK} t="Co" />
      <Sw x={71} y={33} c={PINK} />
      <Tx x={51} y={57} c={TEAL} t="Ni" />
      <Sw x={71} y={57} c={TEAL} />
      <Tx x={51} y={83} c={MNC} t="Mn" />
      <Sw x={71} y={83} c={MNC} />
      <Tx x={51} y={107} c={LGREEN} t="Cu" />
      <Sw x={71} y={107} c={LGREEN} />
      <Tx x={51} y={129} c={FEC} t="Fe" />
      <Sw x={71} y={129} c={FEC} />
      <Sw x={100} y={33} c={GRAYC} />
      <Tx x={97} y={46} c={GRAYC} t="Mn_{0.82}Fe_{0.18}" />
      <Sw x={100} y={59} c={YELLOW} />
      <Tx x={96} y={71} c={YELLOW} t="Cu_{0.79}Fe_{0.22}" />
      <Sw x={100} y={82} c={ORANGE} />
      <Tx x={93} y={97} c={ORANGE} t="Co_{0.78}Fe_{0.22}" />
      <Sw x={100} y={112} c={PURPLE} />
      <Tx x={97} y={127} c={PURPLE} t="Ni_{0.78}Fe_{0.22}" />

      {/* legend b */}
      <Sw x={316} y={21} c={YELLOW} />
      <Tx x={315} y={32} c={YELLOW} t="Co_{0.64}Fe_{0.36}" />
      <Sw x={316} y={44} c={PURPLE} />
      <Tx x={315} y={56} c={PURPLE} t="Co_{0.71}Fe_{0.29}" />
      <Sw x={316} y={69} c={PINK} />
      <Tx x={315} y={82} c={PINK} t="Co_{0.82}Fe_{0.18}" />
      <Sw x={395} y={20} c={LGREEN} />
      <Tx x={395} y={33} c={LGREEN} t="Co_{0.96}Fe_{0.04}" />
      <Sw x={395} y={44} c={TEAL} />
      <Tx x={395} y={57} c={TEAL} t="Co_{0.99}Fe_{0.01}" />
      <Sw x={396} y={70} c={ORANGE} />
      <Tx x={404} y={82} c={ORANGE} t="Co_{1}Fe_{0}" />

      {/* legend c */}
      <Sw x={565} y={21} c={YELLOW} />
      <Tx x={565} y={32} c={YELLOW} t="Co_{0.64}Fe_{0.36}" />
      <Sw x={565} y={43} c={PURPLE} />
      <Tx x={565} y={55} c={PURPLE} t="Co_{0.71}Fe_{0.29}" />
      <Sw x={565} y={68} c={PINK} />
      <Tx x={565} y={79} c={PINK} t="Co_{0.82}Fe_{0.18}" />
      <Sw x={638} y={21} c={LGREEN} />
      <Tx x={638} y={32} c={LGREEN} t="Co_{0.96}Fe_{0.04}" />
      <Sw x={638} y={44} c={TEAL} />
      <Tx x={638} y={56} c={TEAL} t="Co_{0.99}Fe_{0.01}" />
      <Sw x={708} y={21} c={ORANGE} />
      <Tx x={710} y={32} c={ORANGE} t="Co_{1}Fe_{0}" />
      <Tx x={638} y={97} a="c" r={-45} s={10.5} c={ORANGE} t="112 mV dec^{-1}" />
      <Tx x={673} y={106} a="c" r={-51} s={10.5} c={TEAL} t="107 mV dec^{-1}" />
      <Tx x={694} y={114} a="c" r={-47} s={10.5} c={LGREEN} t="99 mV dec^{-1}" />
      <Tx x={726} y={118} a="c" r={-33} s={10.5} c={YELLOW} t="68 mV dec^{-1}" />
      <Tx x={678} y={157} a="c" r={-44} s={10.5} c={PURPLE} t="67 mV dec^{-1}" />
      <Tx x={736} y={161} a="c" r={-34} s={10.5} c={PINK} t="60 mV dec^{-1}" />

      {/* legend d */}
      <Sw x={52} y={223} c={YELLOW} />
      <Tx x={51} y={232} c={YELLOW} t="Ni_{0.56}Fe_{0.44}" />
      <Sw x={52} y={243} c={PURPLE} />
      <Tx x={51} y={256} c={PURPLE} t="Ni_{0.65}Fe_{0.35}" />
      <Sw x={52} y={269} c={PINK} />
      <Tx x={51} y={281} c={PINK} t="Ni_{0.78}Fe_{0.22}" />
      <Sw x={123} y={223} c={LGREEN} />
      <Tx x={123} y={233} c={LGREEN} t="Ni_{0.94}Fe_{0.06}" />
      <Sw x={124} y={244} c={TEAL} />
      <Tx x={123} y={258} c={TEAL} t="Ni_{0.98}Fe_{0.02}" />
      <Sw x={125} y={271} c={ORANGE} />
      <Tx x={132} y={281} c={ORANGE} t="Ni_{1}Fe_{0}" />

      {/* legend e */}
      <Sw x={311} y={223} c={YELLOW} />
      <Sw x={381} y={223} c={PINK} />
      <Sw x={445} y={223} c={TEAL} />
      <Tx x={310} y={236} c={YELLOW} t="Ni_{0.56}Fe_{0.44}" />
      <Tx x={382} y={236} c={PINK} t="Ni_{0.78}Fe_{0.22}" />
      <Tx x={447} y={236} c={TEAL} t="Ni_{0.98}Fe_{0.02}" />
      <Sw x={311} y={246} c={PURPLE} />
      <Sw x={381} y={246} c={LGREEN} />
      <Sw x={445} y={246} c={ORANGE} />
      <Tx x={310} y={257} c={PURPLE} t="Ni_{0.65}Fe_{0.35}" />
      <Tx x={383} y={257} c={LGREEN} t="Ni_{0.94}Fe_{0.06}" />
      <Tx x={460} y={257} c={ORANGE} t="Ni_{1}Fe_{0}" />
      <Tx x={352} y={288} a="c" r={-34} c={ORANGE} t="107 mV dec^{-1}" />
      <Tx x={425} y={285} a="c" r={-36} c={TEAL} t="100 mV dec^{-1}" />
      <Tx x={357} y={338} a="c" r={-35} c={LGREEN} t="86 mV dec^{-1}" />
      <Tx x={455} y={296} a="c" r={-27} c={YELLOW} t="63 mV dec^{-1}" />
      <Tx x={371} y={368} a="c" r={-25} c={PURPLE} t="60 mV dec^{-1}" />
      <Tx x={467} y={347} a="c" r={-22} c={PINK} t="55 mV dec^{-1}" />

      {/* panel f texts */}
      <Tx x={627} y={307} a="c" s={13} c="#6cc99f" t="Co_{1-x}Fe_{x}" />
      <Tx x={735} y={307} a="c" s={13} c="#f08bc6" t="Ni_{1-x}Fe_{x}" />

      {/* legend g */}
      <Sw x={52} y={437} c={YELLOW} />
      <Tx x={51} y={449} c={YELLOW} t="Ni_{0.56}Fe_{0.44}" />
      <Sw x={52} y={460} c={PURPLE} />
      <Tx x={51} y={475} c={PURPLE} t="Ni_{0.65}Fe_{0.35}" />
      <Sw x={52} y={485} c={PINK} />
      <Tx x={51} y={499} c={PINK} t="Ni_{0.78}Fe_{0.22}" />
      <Sw x={52} y={507} c={LGREEN} />
      <Tx x={51} y={520} c={LGREEN} t="Ni_{0.94}Fe_{0.06}" />
      <Sw x={125} y={437} c={TEAL} />
      <Tx x={124} y={449} c={TEAL} t="Ni_{0.98}Fe_{0.02}" />
      <Sw x={125} y={459} c={ORANGE} />
      <Tx x={125} y={474} c={ORANGE} t="Ni_{1}Fe_{0}" />
      <Tx x={132} y={572} a="c" s={11} t="Ni^{2+} - Ni^{3+}" />
      <Tx x={201} y={572} a="c" s={11} t="OER" />

      {/* legend h */}
      <Sw x={313} y={436} c={YELLOW} />
      <Tx x={315} y={448} c={YELLOW} t="Co_{0.64}Fe_{0.36}" />
      <Sw x={313} y={462} c={PURPLE} />
      <Tx x={315} y={475} c={PURPLE} t="Co_{0.71}Fe_{0.29}" />
      <Sw x={313} y={487} c={PINK} />
      <Tx x={315} y={500} c={PINK} t="Co_{0.82}Fe_{0.18}" />
      <Sw x={388} y={437} c={LGREEN} />
      <Tx x={390} y={449} c={LGREEN} t="Co_{0.96}Fe_{0.04}" />
      <Sw x={388} y={462} c={TEAL} />
      <Tx x={390} y={475} c={TEAL} t="Co_{0.99}Fe_{0.01}" />
      <Sw x={388} y={487} c={ORANGE} />
      <Tx x={391} y={500} c={ORANGE} t="Co_{1}Fe_{0}" />

      {/* panel i labels */}
      <Tx x={621} y={446} a="c" c={SLATE} t="Co_{0.82}Fe_{0.18}-After" />
      <Tx x={623} y={480} a="c" c={SLATE} t="Co_{0.82}Fe_{0.18}-Before" />
      <Tx x={630} y={532} a="c" c={XPUR} t="Co_{1}Fe_{0}-After" />
      <Tx x={630} y={576} a="c" c={XPUR} t="Co_{1}Fe_{0}-Before" />
      <Tx x={631} y={617} a="c" c={XORG} t="Ni_{0.78}Fe_{0.22}-After" />
      <Tx x={630} y={665} a="c" c={XORG} t="Ni_{0.78}Fe_{0.22}-Before" />
      <Tx x={631} y={721} a="c" c={XPNK} t="Ni_{1}Fe_{0}-After" />
      <Tx x={636} y={773} a="c" c={XPNK} t="Ni_{1}Fe_{0}-Before" />
      <Tx x={703} y={442} c="#555" s={10.5} t="MOOH" />
      <svg style={{ position: 'absolute', left: 675, top: 605, zIndex: 5 }} width={22} height={19}>
        <path d="M1 5.5 H12 V1.5 L20.5 9.5 L12 17.5 V13.5 H1 Z" fill="none" stroke="#777" strokeWidth={1} strokeDasharray="2 1.5" />
      </svg>

      {/* panel j labels */}
      <Tx x={52} y={651} c={ORANGE} t="Co_{1}Fe_{0}-After" />
      <Tx x={214} y={654} s={11} t="Co 2p_{3/2}" />
      <Tx x={52} y={695} c={TEAL} t="Co_{1}Fe_{0}-Before" />
      <Tx x={50} y={738} c={PINK} t="Co_{0.82}Fe_{0.18}-After" />
      <Tx x={50} y={781} c={PURPLE} t="Co_{0.82}Fe_{0.18}-Before" />

      {/* panel k labels */}
      <Tx x={313} y={651} c={ORANGE} t="Ni_{1}Fe_{0}-After" />
      <Tx x={485} y={656} s={11} t="Ni 2p_{3/2}" />
      <Tx x={313} y={689} c={TEAL} t="Ni_{1}Fe_{0}-Before" />
      <Tx x={313} y={735} c={PINK} t="Ni_{0.78}Fe_{0.22}-After" />
      <Tx x={313} y={777} c={PURPLE} t="Ni_{0.78}Fe_{0.22}-Before" />
    </div>
  );
}
